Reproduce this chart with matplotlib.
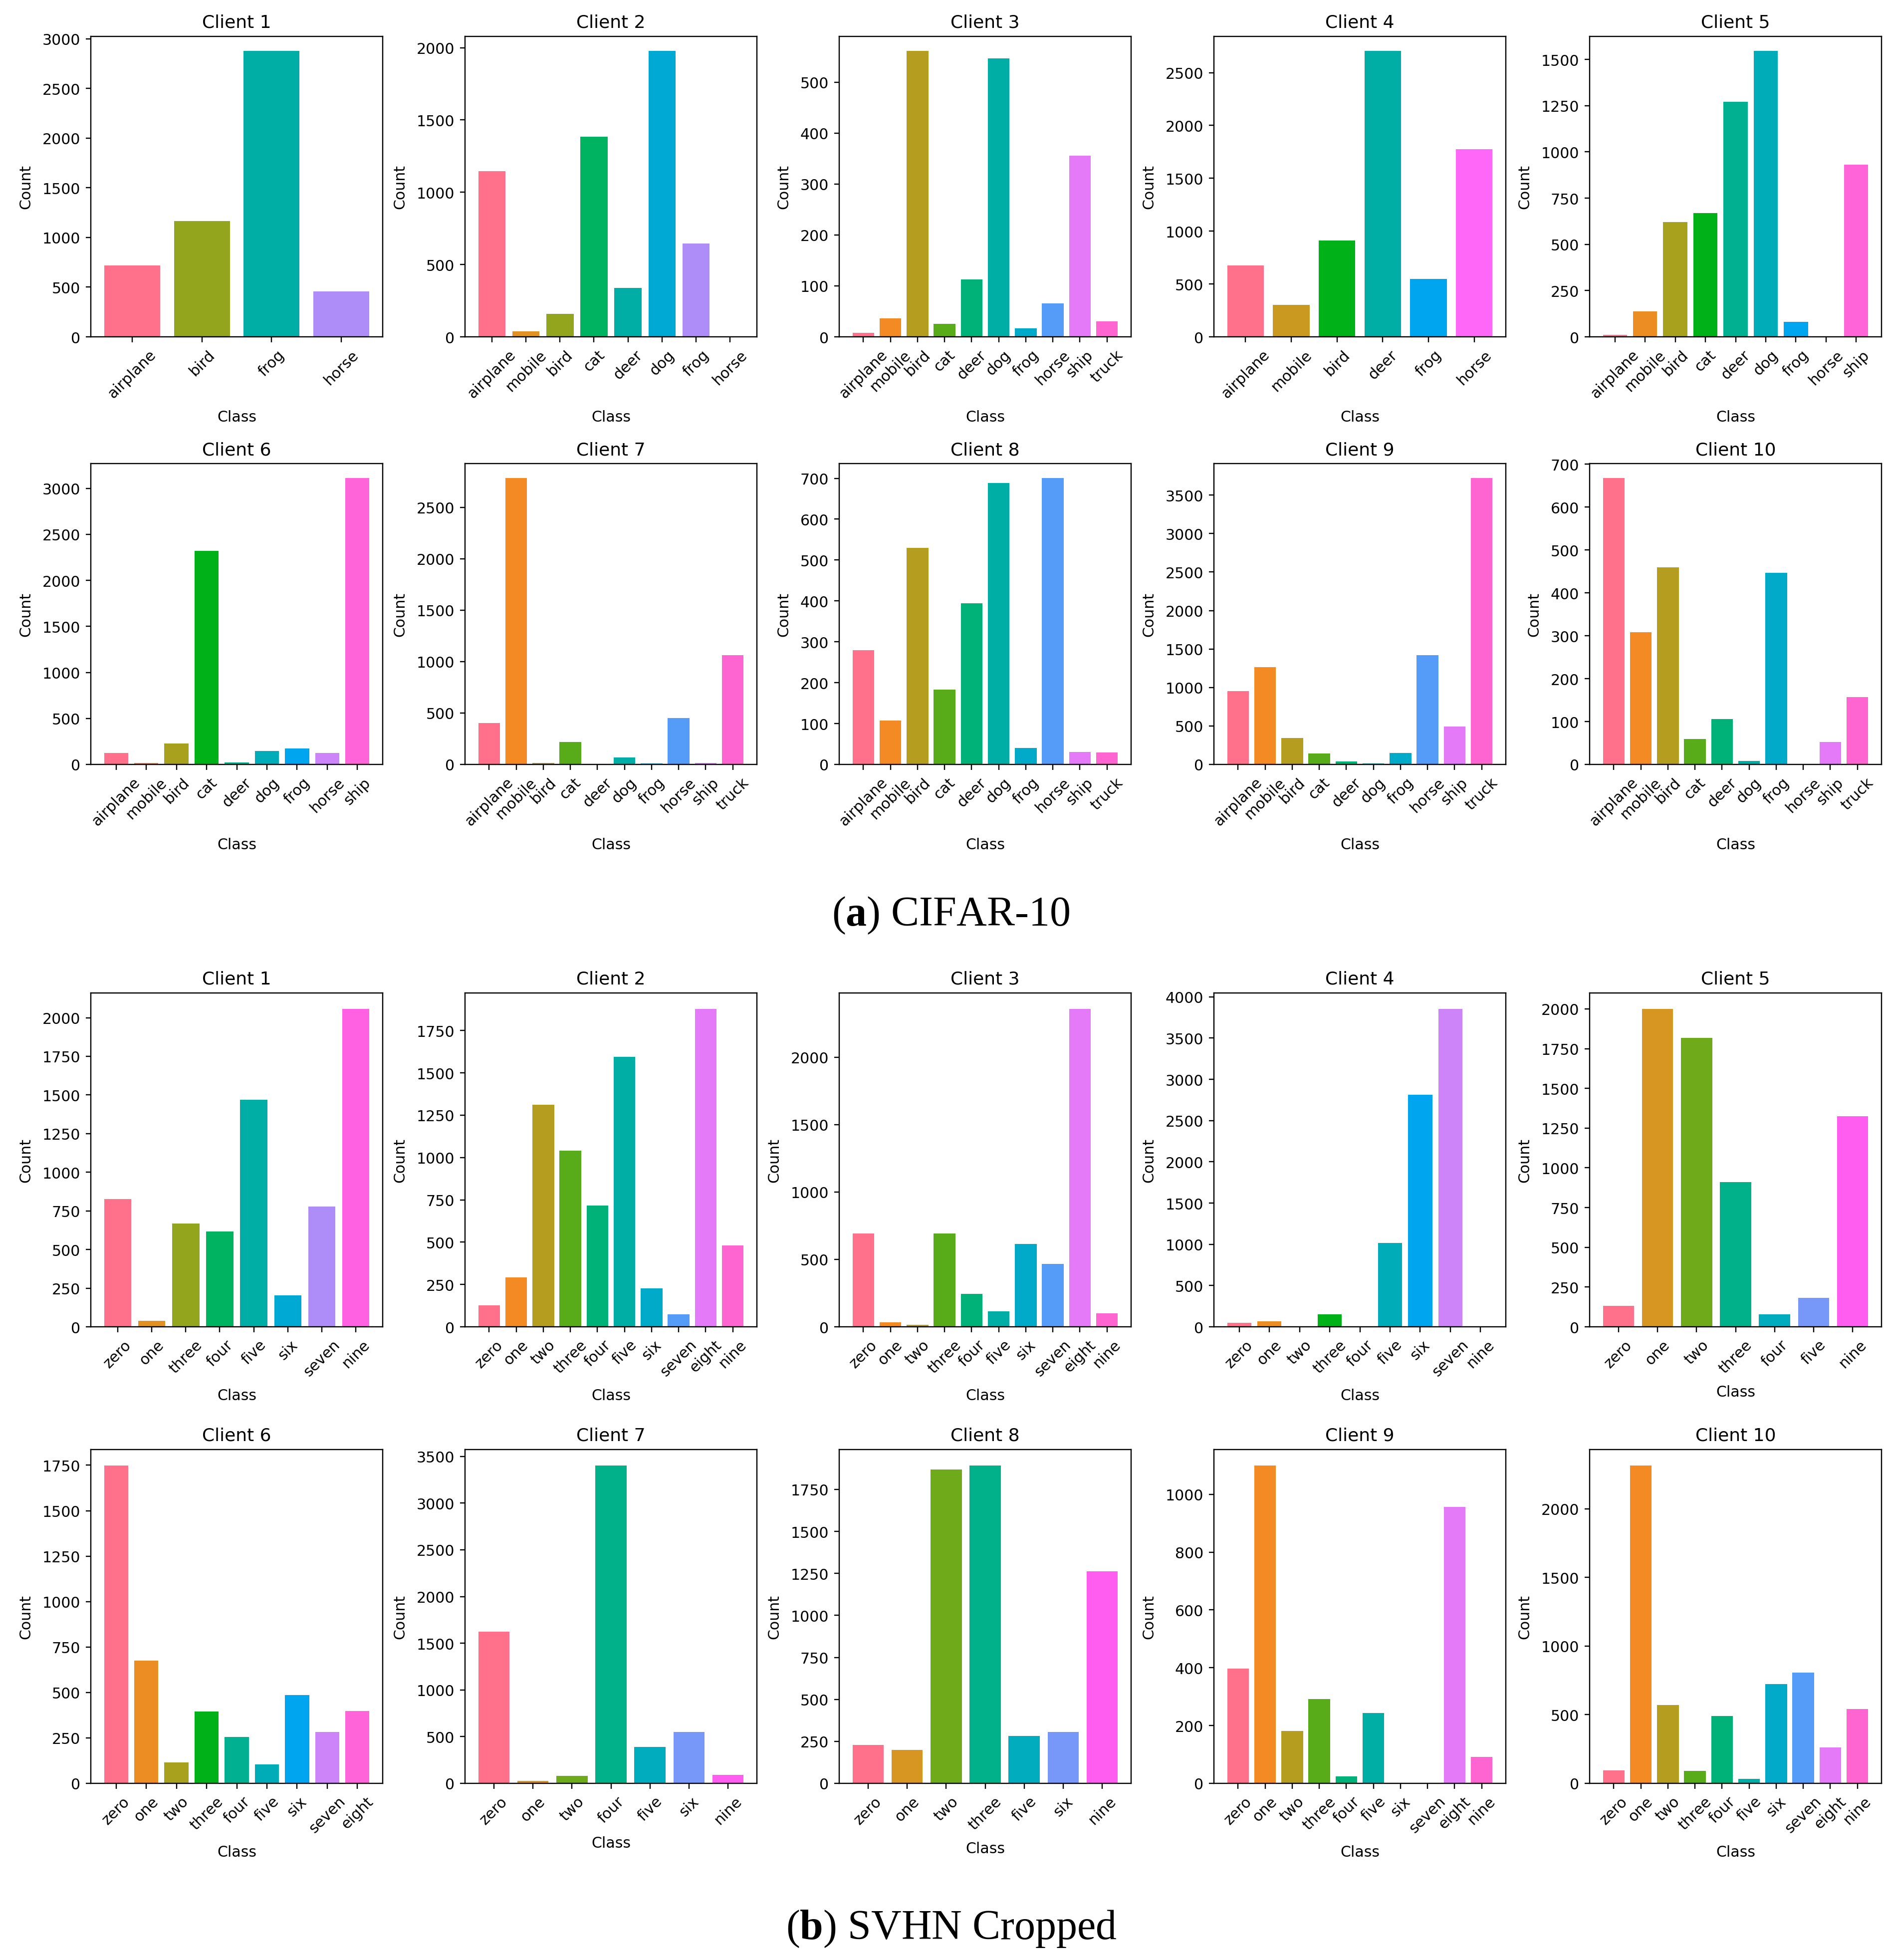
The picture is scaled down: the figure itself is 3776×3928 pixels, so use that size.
import matplotlib
matplotlib.use('Agg')
import numpy as np
import matplotlib.pyplot as plt
from matplotlib.ticker import MaxNLocator
import seaborn as sns

plt.rcParams['mathtext.fontset'] = 'custom'
plt.rcParams['mathtext.rm'] = 'Liberation Serif'
plt.rcParams['mathtext.bf'] = 'Liberation Serif:bold'

# ---- CIFAR-10 client class counts ----
cifar_labels = [
    ['airplane', 'bird', 'frog', 'horse'],
    ['airplane', 'mobile', 'bird', 'cat', 'deer', 'dog', 'frog', 'horse'],
    ['airplane', 'mobile', 'bird', 'cat', 'deer', 'dog', 'frog', 'horse', 'ship', 'truck'],
    ['airplane', 'mobile', 'bird', 'deer', 'frog', 'horse'],
    ['airplane', 'mobile', 'bird', 'cat', 'deer', 'dog', 'frog', 'horse', 'ship'],
    ['airplane', 'mobile', 'bird', 'cat', 'deer', 'dog', 'frog', 'horse', 'ship'],
    ['airplane', 'mobile', 'bird', 'cat', 'deer', 'dog', 'frog', 'horse', 'ship', 'truck'],
    ['airplane', 'mobile', 'bird', 'cat', 'deer', 'dog', 'frog', 'horse', 'ship', 'truck'],
    ['airplane', 'mobile', 'bird', 'cat', 'deer', 'dog', 'frog', 'horse', 'ship', 'truck'],
    ['airplane', 'mobile', 'bird', 'cat', 'deer', 'dog', 'frog', 'horse', 'ship', 'truck'],
]
cifar_counts = [
    [717, 1164, 2880, 455],
    [1147, 38, 159, 1384, 337, 1979, 644, 1],
    [8, 36, 562, 25, 113, 547, 17, 66, 356, 30],
    [674, 302, 910, 2707, 548, 1776],
    [12, 138, 620, 668, 1271, 1547, 82, 3, 932],
    [124, 18, 226, 2321, 24, 145, 172, 124, 3114],
    [402, 2786, 16, 216, 3, 70, 11, 450, 16, 1060],
    [279, 108, 530, 183, 394, 688, 40, 701, 31, 29],
    [955, 1262, 342, 141, 40, 11, 151, 1420, 490, 3724],
    [668, 308, 459, 59, 106, 8, 447, 1, 52, 157],
]

# ---- SVHN client class counts ----
svhn_labels = [
    ['zero', 'one', 'three', 'four', 'five', 'six', 'seven', 'nine'],
    ['zero', 'one', 'two', 'three', 'four', 'five', 'six', 'seven', 'eight', 'nine'],
    ['zero', 'one', 'two', 'three', 'four', 'five', 'six', 'seven', 'eight', 'nine'],
    ['zero', 'one', 'two', 'three', 'four', 'five', 'six', 'seven', 'nine'],
    ['zero', 'one', 'two', 'three', 'four', 'five', 'nine'],
    ['zero', 'one', 'two', 'three', 'four', 'five', 'six', 'seven', 'eight'],
    ['zero', 'one', 'two', 'four', 'five', 'six', 'nine'],
    ['zero', 'one', 'two', 'three', 'five', 'six', 'nine'],
    ['zero', 'one', 'two', 'three', 'four', 'five', 'six', 'seven', 'eight', 'nine'],
    ['zero', 'one', 'two', 'three', 'four', 'five', 'six', 'seven', 'eight', 'nine'],
]
svhn_counts = [
    [825, 38, 667, 618, 1469, 205, 777, 2057],
    [128, 293, 1312, 1040, 715, 1596, 227, 73, 1878, 479],
    [693, 33, 13, 691, 246, 115, 613, 467, 2359, 100],
    [50, 64, 2, 153, 7, 1016, 2813, 3854, 1],
    [131, 2000, 1819, 909, 79, 181, 1325],
    [1749, 675, 116, 396, 256, 105, 487, 284, 398],
    [1626, 25, 78, 3403, 389, 552, 91],
    [228, 199, 1869, 1893, 281, 307, 1262],
    [397, 1100, 181, 291, 24, 244, 0, 0, 957, 92],
    [94, 2316, 571, 90, 490, 32, 723, 808, 262, 542],
]

W, H = 3776, 3929
fig = plt.figure(figsize=(W / 216, H / 216), dpi=216)

# pixel layout of the panels
lefts = [182, 932, 1682, 2433, 3186]
axw = 585
rows = [(74, 676), (930, 1533), (1991, 2660), (2906, 3575)]


def vivid(colors):
    # the printed figure looks like husl read as Adobe RGB -> sRGB (more saturated greens)
    lin = np.asarray(colors) ** 2.2
    m = np.array([[1.39836, -0.39836, 0.0],
                  [0.0, 1.0, 0.0],
                  [0.0, -0.04293, 1.04293]])
    out = np.clip(lin @ m.T, 0, 1)
    return np.where(out <= 0.0031308, 12.92 * out, 1.055 * out ** (1 / 2.4) - 0.055)


def draw(ax, labels, counts, title, nbins):
    colors = vivid(sns.color_palette('husl', len(labels)))
    ax.bar(labels, counts, color=colors)
    ax.set_title(title)
    ax.set_xlabel('Class', labelpad=6)
    ax.set_ylabel('Count', labelpad=6)
    ax.tick_params(axis='x', labelrotation=45)
    ax.yaxis.set_major_locator(MaxNLocator(nbins=nbins, steps=[1, 2, 2.5, 5, 10]))


datasets = [(cifar_labels, cifar_counts, 0, 8), (svhn_labels, svhn_counts, 2, 9)]
for labels_all, counts_all, r0, nb in datasets:
    for i in range(10):
        top, bot = rows[r0 + i // 5]
        left = lefts[i % 5]
        ax = fig.add_axes([left / W, 1 - bot / H, axw / W, (bot - top) / H])
        draw(ax, labels_all[i], counts_all[i], 'Client %d' % (i + 1), nb)

fig.text(1906 / W, 1 - 1855 / H, r'($\mathbf{a}$) CIFAR-10', ha='center',
         va='baseline', fontsize=28, family='Liberation Serif')
fig.text(1907 / W, 1 - 3886 / H, r'($\mathbf{b}$) SVHN Cropped', ha='center',
         va='baseline', fontsize=28, family='Liberation Serif')

fig.savefig('out.png', dpi=216)
